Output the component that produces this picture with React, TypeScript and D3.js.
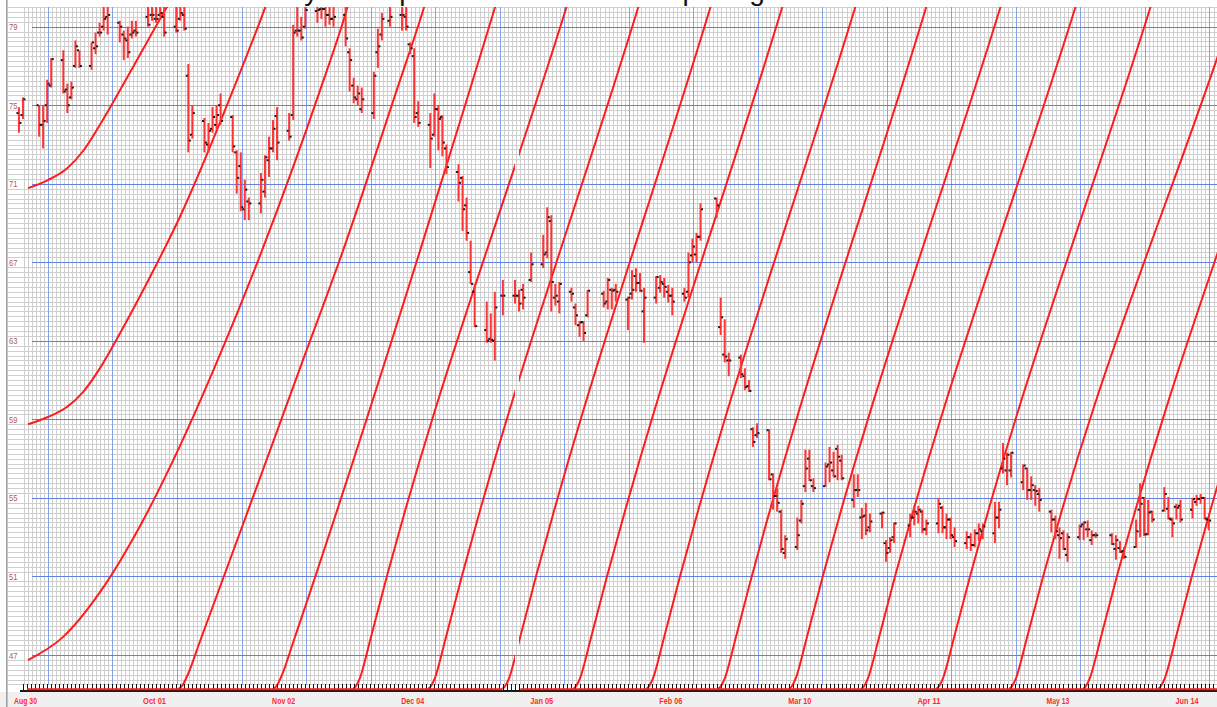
import React from "react";
import * as d3 from "d3";

const W = 1217;
const H = 707;
const DAY = 864e5;
const parse = d3.utcParse("%Y-%m-%d");

// sessions, Aug 2014 - Jun 2015
const barDates = [
  "2014-08-28", "2014-08-29",
  "2014-09-02", "2014-09-03", "2014-09-04", "2014-09-05", "2014-09-08", "2014-09-09", "2014-09-10", "2014-09-11", "2014-09-12",
  "2014-09-15", "2014-09-16", "2014-09-17", "2014-09-18", "2014-09-19", "2014-09-22", "2014-09-23", "2014-09-24", "2014-09-25",
  "2014-09-26", "2014-09-29", "2014-09-30",
  "2014-10-01", "2014-10-02", "2014-10-03", "2014-10-06", "2014-10-07", "2014-10-08", "2014-10-09", "2014-10-10", "2014-10-13",
  "2014-10-14", "2014-10-15", "2014-10-16", "2014-10-17", "2014-10-20", "2014-10-21", "2014-10-22", "2014-10-23", "2014-10-24",
  "2014-10-27", "2014-10-28", "2014-10-29", "2014-10-30", "2014-10-31",
  "2014-11-03", "2014-11-04", "2014-11-05", "2014-11-06", "2014-11-07", "2014-11-10", "2014-11-11", "2014-11-12", "2014-11-13",
  "2014-11-14", "2014-11-17", "2014-11-18", "2014-11-19", "2014-11-20", "2014-11-21", "2014-11-24", "2014-11-25", "2014-11-26",
  "2014-11-28",
  "2014-12-01", "2014-12-02", "2014-12-03", "2014-12-04", "2014-12-05", "2014-12-08", "2014-12-09", "2014-12-10", "2014-12-11",
  "2014-12-12", "2014-12-15", "2014-12-16", "2014-12-17", "2014-12-18", "2014-12-19", "2014-12-22", "2014-12-23", "2014-12-24",
  "2014-12-26", "2014-12-29", "2014-12-30", "2014-12-31",
  "2015-01-02", "2015-01-05", "2015-01-06", "2015-01-07", "2015-01-08", "2015-01-09", "2015-01-12", "2015-01-13", "2015-01-14",
  "2015-01-15", "2015-01-16", "2015-01-20", "2015-01-21", "2015-01-22", "2015-01-23", "2015-01-26", "2015-01-27", "2015-01-28",
  "2015-01-29", "2015-01-30",
  "2015-02-02", "2015-02-03", "2015-02-04", "2015-02-05", "2015-02-06", "2015-02-09", "2015-02-10", "2015-02-11", "2015-02-12",
  "2015-02-13", "2015-02-17", "2015-02-18", "2015-02-19", "2015-02-20", "2015-02-23", "2015-02-24", "2015-02-25", "2015-02-26",
  "2015-02-27",
  "2015-03-02", "2015-03-03", "2015-03-04", "2015-03-05", "2015-03-06", "2015-03-09", "2015-03-10", "2015-03-11", "2015-03-12",
  "2015-03-13", "2015-03-16", "2015-03-17", "2015-03-18", "2015-03-19", "2015-03-20", "2015-03-23", "2015-03-24", "2015-03-25",
  "2015-03-26", "2015-03-27", "2015-03-30", "2015-03-31",
  "2015-04-01", "2015-04-02", "2015-04-06", "2015-04-07", "2015-04-08", "2015-04-09", "2015-04-10", "2015-04-13", "2015-04-14",
  "2015-04-15", "2015-04-16", "2015-04-17", "2015-04-20", "2015-04-21", "2015-04-22", "2015-04-23", "2015-04-24", "2015-04-27",
  "2015-04-28", "2015-04-29", "2015-04-30",
  "2015-05-01", "2015-05-04", "2015-05-05", "2015-05-06", "2015-05-07", "2015-05-08", "2015-05-11", "2015-05-12", "2015-05-13",
  "2015-05-14", "2015-05-15", "2015-05-18", "2015-05-19", "2015-05-20", "2015-05-21", "2015-05-22", "2015-05-26", "2015-05-27",
  "2015-05-28", "2015-05-29",
  "2015-06-01", "2015-06-02", "2015-06-03", "2015-06-04", "2015-06-05", "2015-06-08", "2015-06-09", "2015-06-10", "2015-06-11",
  "2015-06-12", "2015-06-15", "2015-06-16", "2015-06-17", "2015-06-18", "2015-06-19",
];

const opens = [
  74.6, 74.5,
  75.0, 74.0, 75.0, 76.0, 77.3, 75.8, 75.4, 77.0, 77.8, 77.0, 77.9, 78.7, 79.0, 79.5, 79.2, 78.6, 78.3, 78.6, 78.8, 79.5, 79.6,
  79.4, 79.6, 79.5, 79.0, 79.4, 79.6, 76.5, 73.5, 74.2, 73.0, 73.8, 74.0, 75.0, 74.4, 72.6, 71.9, 69.7, 70.1, 70.0, 70.6, 72.2, 72.8, 74.45,
  73.7, 74.5, 78.8, 78.8, 79.0, 79.8, 79.9, 79.9, 79.6, 79.4, 79.6, 77.7, 76.0, 75.3, 74.8, 74.6, 77.7, 78.6, 79.3,
  79.6, 79.5, 78.1, 77.5, 74.6, 74.0, 73.5, 74.8, 74.4, 72.8, 71.6, 71.3, 69.9, 66.5, 65.5, 63.55, 63.1, 63.0, 65.3, 65.3, 65.3, 65.6,
  66.1, 66.9, 67.5, 69.1, 65.2, 65.0, 65.5, 64.7, 63.8, 63.95, 64.3, 65.4, 65.0, 65.6, 65.6, 65.1, 65.4, 66.3, 65.95, 64.5,
  65.2, 65.7, 65.9, 65.5, 65.3, 65.4, 65.5, 67.35, 67.4, 68.3, 70.25, 63.7, 62.3, 62.0, 62.15, 61.2, 60.7, 58.5, 58.2,
  58.45, 56.2, 55.1, 54.3, 52.2, 52.5, 53.85, 55.6, 57.0, 55.6, 55.6, 56.7, 56.4, 57.5, 56.9, 54.9, 55.4, 54.0, 54.1, 53.5, 54.2, 52.7,
  52.45, 53.0, 53.6, 54.0, 54.2, 54.3, 53.4, 53.7, 54.5, 53.5, 53.9, 53.0, 52.7, 53.0, 52.6, 53.2, 53.3, 53.2, 54.0, 56.5, 56.4,
  56.4, 55.8, 56.5, 55.4, 55.4, 55.2, 54.3, 53.9, 53.1, 53.2, 52.1, 53.0, 53.65, 53.4, 52.85, 53.1, 53.1, 52.4, 52.45, 52.3,
  52.5, 54.4, 55.0, 53.15, 54.3, 54.35, 54.45, 53.9, 54.55, 54.6, 54.4, 54.8, 54.95, 55.0, 53.9,
];

const highs = [
  74.9, 75.4,
  75.0, 75.0, 76.3, 77.4, 77.8, 76.1, 76.2, 78.3, 77.8, 78.2, 78.7, 79.2, 80.1, 80.3, 79.3, 78.8, 79.0, 79.3, 79.3, 80.4, 80.5,
  80.4, 80.6, 80.2, 80.3, 80.4, 80.5, 77.1, 75.0, 74.35, 74.1, 74.9, 75.0, 75.6, 74.5, 72.7, 72.6, 71.2, 70.3, 71.55, 72.45, 73.4, 74.25, 74.9,
  74.6, 79.1, 80.2, 79.5, 80.1, 80.4, 80.5, 80.3, 80.4, 80.2, 80.3, 77.9, 76.4, 76.0, 75.9, 76.7, 78.9, 79.7, 80.4,
  80.3, 80.0, 78.2, 77.9, 75.2, 74.6, 75.6, 75.0, 74.5, 73.0, 72.0, 71.4, 70.3, 68.1, 65.9, 65.0, 64.4, 65.5, 66.1, 66.1, 65.6, 65.9,
  67.5, 68.4, 69.8, 69.4, 65.9, 66.0, 65.7, 64.9, 64.0, 64.0, 65.6, 65.55, 66.2, 65.7, 65.9, 65.25, 66.6, 66.7, 66.45, 65.7,
  66.3, 66.35, 66.2, 65.85, 65.7, 65.7, 67.5, 68.2, 68.5, 70.0, 70.3, 65.2, 64.1, 62.4, 62.3, 61.6, 61.0, 58.6, 58.8,
  58.5, 56.25, 55.5, 54.4, 53.1, 54.0, 54.9, 57.45, 57.45, 56.0, 56.8, 57.6, 57.35, 57.7, 57.2, 56.2, 56.2, 54.5, 54.75, 54.2, 54.3, 52.85,
  53.0, 53.75, 54.2, 54.6, 54.6, 54.4, 53.9, 55.0, 54.6, 54.2, 54.0, 53.5, 53.3, 53.2, 53.4, 53.7, 53.7, 54.8, 54.8, 57.8, 57.3,
  57.35, 56.7, 56.55, 56.1, 55.65, 55.5, 54.4, 54.1, 53.5, 53.35, 53.2, 53.65, 53.8, 53.85, 53.35, 53.25, 53.2, 53.1, 52.8, 52.5,
  53.9, 55.75, 55.05, 54.9, 54.35, 55.55, 55.05, 54.0, 54.7, 54.9, 55.0, 55.15, 55.2, 55.05, 53.95,
];

const lows = [
  73.6, 74.3,
  73.4, 72.8, 74.1, 75.9, 75.6, 74.6, 75.3, 76.9, 76.9, 76.8, 77.6, 78.5, 78.8, 78.6, 78.2, 77.3, 77.4, 78.4, 78.5, 79.0, 79.3,
  79.2, 79.5, 78.5, 78.7, 79.3, 78.8, 72.6, 73.3, 72.6, 72.6, 73.6, 73.75, 74.0, 72.6, 70.5, 69.6, 69.15, 69.15, 69.5, 70.3, 71.35, 72.6, 72.2,
  73.2, 74.25, 78.5, 78.3, 78.9, 79.2, 79.4, 79.0, 79.1, 79.0, 78.0, 75.7, 75.1, 75.0, 74.6, 74.3, 76.9, 78.3, 79.0,
  78.8, 78.8, 77.6, 74.1, 73.9, 71.8, 73.4, 72.7, 72.4, 71.5, 70.1, 68.6, 68.1, 65.9, 63.7, 62.9, 62.9, 62.0, 64.3, 64.9, 64.5, 64.6,
  66.0, 66.7, 67.2, 64.5, 64.8, 64.4, 65.0, 63.8, 63.2, 63.0, 64.2, 64.7, 64.6, 64.6, 65.0, 63.55, 65.1, 65.5, 65.5, 62.9,
  64.9, 65.45, 65.2, 64.95, 64.3, 65.0, 65.2, 67.0, 67.0, 68.1, 69.25, 63.3, 61.9, 61.2, 61.1, 60.5, 60.4, 57.6, 58.05,
  55.9, 54.4, 54.3, 52.2, 51.9, 52.35, 53.7, 55.3, 55.85, 55.3, 55.55, 55.8, 56.05, 55.9, 55.9, 54.5, 55.05, 52.9, 53.1, 53.25, 53.45, 51.75,
  52.2, 52.7, 53.0, 53.6, 53.7, 53.2, 53.1, 53.2, 53.2, 52.9, 52.9, 52.5, 52.4, 52.3, 52.5, 52.8, 52.9, 52.7, 53.45, 56.25, 55.65,
  56.05, 55.4, 54.9, 54.9, 54.6, 54.3, 53.25, 52.9, 51.9, 52.35, 51.75, 52.85, 52.85, 53.0, 52.6, 52.95, 52.6, 51.85, 52.2, 51.9,
  52.45, 53.0, 53.05, 53.1, 53.75, 54.3, 53.9, 53.0, 53.9, 53.75, 53.95, 54.6, 54.7, 53.9, 53.35,
];

const closes = [
  74.1, 75.3,
  74.0, 74.2, 76.1, 77.35, 75.7, 75.0, 75.9, 78.0, 77.0, 78.2, 78.0, 78.7, 79.4, 79.6, 79.0, 78.4, 77.7, 78.7, 78.7, 79.1, 79.6,
  79.4, 79.7, 78.7, 78.8, 79.7, 78.9, 73.2, 74.6, 73.1, 73.7, 74.4, 74.5, 74.2, 72.9, 71.3, 69.8, 70.7, 70.0, 71.2, 72.35, 72.8, 73.8, 73.1,
  73.4, 78.7, 78.8, 78.45, 79.85, 79.85, 79.9, 79.6, 79.4, 79.5, 78.4, 77.3, 75.4, 75.6, 75.3, 76.5, 78.0, 79.4, 79.5,
  79.6, 79.0, 77.9, 74.4, 74.1, 73.3, 74.8, 74.3, 73.1, 71.85, 71.05, 69.7, 68.5, 65.9, 63.75, 63.0, 63.05, 64.7, 65.3, 65.3, 64.9, 65.2,
  66.9, 67.4, 69.3, 66.0, 65.3, 65.9, 65.4, 64.3, 63.95, 63.4, 65.55, 64.9, 66.1, 65.55, 65.5, 65.2, 65.6, 65.95, 65.55, 65.2,
  66.25, 66.0, 65.75, 65.3, 65.0, 65.2, 67.0, 67.8, 68.3, 69.7, 69.9, 64.2, 62.2, 62.0, 61.3, 60.65, 60.45, 57.85, 58.3,
  55.95, 55.1, 54.75, 52.4, 52.9, 53.1, 54.7, 56.5, 55.9, 55.5, 56.6, 56.8, 56.1, 57.1, 56.0, 55.4, 55.4, 54.05, 53.35, 53.8, 54.25, 52.2,
  52.85, 53.7, 54.0, 54.3, 54.4, 53.4, 53.7, 54.7, 53.5, 53.9, 53.1, 52.8, 53.0, 52.6, 53.2, 53.4, 53.55, 54.0, 54.4, 57.0, 57.2,
  57.3, 56.65, 55.4, 55.65, 55.35, 54.9, 53.9, 53.3, 52.95, 52.4, 53.0, 53.55, 53.75, 53.4, 53.1, 53.1, 52.65, 52.85, 52.25, 52.0,
  53.3, 54.7, 53.15, 54.25, 53.9, 55.2, 53.95, 53.7, 54.5, 53.9, 54.95, 54.95, 55.0, 53.95, 53.85,
];

const priceLabels = [79, 75, 71, 67, 63, 59, 55, 51, 47];
const dateLabels = [
  "2014-08-30", "2014-10-01", "2014-11-02", "2014-12-04", "2015-01-05",
  "2015-02-06", "2015-03-10", "2015-04-11", "2015-05-13", "2015-06-14",
];
const chartTitle = "Daily stock price and time arcs on pricing";

// red projection curves: [days after Aug 30 2014, price]
const arcTop = [[0.25, 70.78], [5.2, 71.19], [9.9, 71.78], [14.1, 72.72], [18.8, 74.25], [26.3, 76.95], [34.7, 80.0], [37.9, 81.1]];
const arcMid = [[0.25, 58.75], [5.2, 59.12], [9.9, 59.63], [13.9, 60.39], [18.1, 61.61], [23.1, 63.4], [30.5, 66.25],
  [37.9, 69.31], [51.1, 75.78], [59.0, 79.95], [60.8, 80.97]];
const arcLow = [[0.25, 46.74], [8.9, 47.91], [18.1, 50.2], [28.0, 53.56], [37.9, 57.64], [47.9, 62.32], [58.3, 67.62],
  [72.7, 75.78], [79.4, 79.95], [80.8, 80.97]];
const rayFirst = [[37.4, 45.26], [38.4, 45.41], [39.7, 45.92], [42.9, 47.7], [55.3, 54.63], [67.7, 61.61], [78.4, 67.62],
  [91.7, 75.78], [98.4, 79.95], [99.9, 80.97]];
const raySecond = [[61.0, 45.26], [62.0, 45.46], [63.2, 45.97], [66.0, 47.65], [97.5, 67.62], [109.8, 75.78], [116.0, 79.95],
  [117.5, 80.97]];
// later rays: foot shape (days after start, price), start day and day where each reaches the top price
const rayFoot = [[0, 45.26], [0.74, 45.41], [1.74, 45.82], [2.98, 46.69], [4.22, 47.7]];
const rayStarts = [80.8, 99.4, 117.8, 135.4, 153.5, 171.3, 188.9, 206.8, 225.4, 243.5, 261.8, 280.4];
const rayTops = [133.7, 151.5, 169.4, 187.2, 205.3, 222.9, 241.3, 259.9, 278.5, 299.3, 315.6, 334.2];
const topPrice = 79.95;
const floorPrice = 45.26;
const floorGap = [117.8, 122.3];
const rayGap = [121.0, 122.0];

const x0 = parse("2014-08-30");
const dayToDate = (d) => new Date(+x0 + d * DAY);

const x = d3.scaleUtc().domain([x0, parse("2015-06-14")]).range([27, 1188.5]);
const y = d3.scaleLinear().domain([47, 79]).range([655, 26.7]);

const plotL = 8, plotT = 7, plotB = 689.5;
const crisp = (v) => Math.round(v) + 0.5;

export default function App() {
  const n = Math.min(barDates.length, opens.length, highs.length, lows.length, closes.length);
  const bars = d3.range(n).map((i) => ({
    x: x(parse(barDates[i])), o: opens[i], h: highs[i], l: lows[i], c: closes[i],
  }));

  const line = d3.line().x((d) => x(dayToDate(d[0]))).y((d) => y(d[1])).curve(d3.curveMonotoneX);
  const laterRays = rayStarts.map((s, i) => {
    const foot = rayFoot.map(([d, p]) => [s + d, p]);
    const [fd, fp] = foot[foot.length - 1];
    const top = rayTops[i];
    const slope = (topPrice - fp) / (top - fd);
    return [...foot, [top, topPrice], [top + 2, topPrice + 2 * slope]];
  });
  const rays = [arcTop, arcMid, arcLow, rayFirst, raySecond, ...laterRays];

  // minor grid: one column per day, one row per quarter point
  const gridCols = d3.range(-6, 300).map((k) => ({ x: x(dayToDate(5.2 + k)), major: k % 16 === 0 }))
    .filter((g) => g.x >= plotL && g.x <= W);
  const gridRows = d3.range(45.5, 80.01, 0.25).map((p) => ({ y: y(p), major: Math.abs((p - 47) % 4) < 1e-6 }));
  const dayTicks = d3.range(-1, 300).map((k) => x(dayToDate(k))).filter((v) => v >= 20 && v <= W);

  const gapL = x(dayToDate(rayGap[0]));
  const gapR = x(dayToDate(rayGap[1]));
  const floorY = y(floorPrice);

  return (
    <div style={{ position: "absolute", left: 0, top: 0, width: W, height: H }}>
      <svg width={W} height={H} style={{ display: "block", background: "#fff" }}>
        <defs>
          <clipPath id="rayClip">
            <rect x={plotL} y={plotT} width={gapL - plotL} height={plotB - plotT} />
            <rect x={gapR} y={plotT} width={W - gapR} height={plotB - plotT} />
          </clipPath>
          <clipPath id="plotClip">
            <rect x={plotL} y={plotT} width={W - plotL} height={plotB - plotT} />
          </clipPath>
        </defs>

        {/* title sits above the visible frame; only its descenders show, as in the source */}
        <text x={256} y={-0.5} fontFamily="Liberation Sans, Arial, sans-serif" fontSize={28} fill="#111">
          {chartTitle}
        </text>

        <g shapeRendering="crispEdges">
          {gridRows.filter((r) => !r.major).map((r, i) => (
            <line key={"hr" + i} x1={plotL} x2={W} y1={crisp(r.y)} y2={crisp(r.y)} stroke="#cfcfcf" />
          ))}
          {gridCols.filter((c) => !c.major).map((c, i) => (
            <line key={"vc" + i} x1={crisp(c.x)} x2={crisp(c.x)} y1={plotT} y2={685} stroke="#cfcfcf" />
          ))}
          {gridCols.filter((c) => c.major).map((c, i) => (
            <line key={"vb" + i} x1={crisp(c.x)} x2={crisp(c.x)} y1={plotT} y2={685} stroke="#86a2ea" />
          ))}
          {priceLabels.map((p) => (
            <line key={"hb" + p} x1={32} x2={W} y1={crisp(y(p))} y2={crisp(y(p))} stroke="#5f82e0" />
          ))}
        </g>

        {priceLabels.map((p) => (
          <text key={"pl" + p} x={9} y={y(p) + 3.5} fontFamily="Liberation Sans, Arial, sans-serif" fontSize={9}
            fill="#b05a5a" textLength={8.5} lengthAdjust="spacingAndGlyphs">{p}</text>
        ))}

        <g clipPath="url(#rayClip)" fill="none" stroke="#ff1c1c" strokeWidth={2}>
          {rays.map((r, i) => (
            <path key={"ray" + i} d={line(r)} />
          ))}
        </g>

        <g clipPath="url(#plotClip)">
          {bars.map((b, i) => (
            <g key={"bar" + i}>
              <rect x={b.x - 1} y={y(b.h)} width={2} height={Math.max(1, y(b.l) - y(b.h))} fill="#ff3535" />
              <rect x={b.x - 2.5} y={y(b.o) - 1} width={2} height={2} fill="#1a1a1a" />
              <rect x={b.x + 0.5} y={y(b.c) - 1} width={2} height={2} fill="#1a1a1a" />
            </g>
          ))}
        </g>

        <rect x={0} y={692} width={W} height={H - 692} fill="#f0f0f0" />
        <g shapeRendering="crispEdges">
          {dayTicks.map((t, i) => (
            <line key={"tk" + i} x1={crisp(t)} x2={crisp(t)} y1={684} y2={690} stroke="#111" />
          ))}
          <rect x={20} y={689.5} width={W - 20} height={2} fill="#1a1a1a" />
        </g>
        <g stroke="#ff1c1c" strokeWidth={2}>
          <line x1={27} x2={x(dayToDate(floorGap[0]))} y1={floorY} y2={floorY} />
          <line x1={x(dayToDate(floorGap[1]))} x2={W} y1={floorY} y2={floorY} />
        </g>

        {dateLabels.map((s) => {
          const d = parse(s);
          return (
            <text key={s} x={x(d) - 1.5} y={704} textAnchor="middle" fontFamily="Liberation Sans, Arial, sans-serif"
              fontWeight="bold" fontSize={9.5} fill="#ff2a2a" textLength={23} lengthAdjust="spacingAndGlyphs">
              {d3.utcFormat("%b %d")(d)}
            </text>
          );
        })}

        <rect x={6} y={0} width={1.6} height={H} fill="#a0a0a0" />
      </svg>
    </div>
  );
}
